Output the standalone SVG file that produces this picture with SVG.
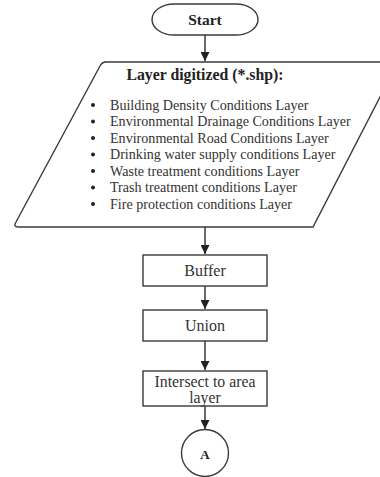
<svg xmlns="http://www.w3.org/2000/svg" width="380" height="477" viewBox="0 0 380 477">
  <style>
    .shape { fill: #ffffff; stroke: #3a3a3a; stroke-width: 1.4; }
    .edge { stroke: #2a2a2a; stroke-width: 1.4; fill: none; }
    .title { font-family: "Liberation Serif", "Times New Roman", serif; font-weight: bold; fill: #222222; }
    .label { font-family: "Liberation Serif", "Times New Roman", serif; fill: #333333; }
    .bullet { fill: #222222; }
  </style>
  <defs>
    <marker id="arrow" viewBox="0 0 10 10" refX="10" refY="5" markerWidth="9" markerHeight="9" markerUnits="userSpaceOnUse" orient="auto">
      <path d="M0,0 L10,5 L0,10 z" fill="#222222"/>
    </marker>
  </defs>
  <rect width="380" height="477" fill="#ffffff"/>

  <!-- connectors -->
  <g id="connectors">
    <line class="edge" x1="205" y1="35" x2="205" y2="61" marker-end="url(#arrow)"/>
    <line class="edge" x1="205" y1="227" x2="205" y2="254" marker-end="url(#arrow)"/>
    <line class="edge" x1="205" y1="286" x2="205" y2="309" marker-end="url(#arrow)"/>
    <line class="edge" x1="205" y1="341" x2="205" y2="370" marker-end="url(#arrow)"/>
    <line class="edge" x1="205" y1="406" x2="205" y2="429" marker-end="url(#arrow)"/>
  </g>

  <!-- start terminator -->
  <g id="start">
    <rect class="shape" x="152" y="4" width="106" height="31" rx="22" ry="15.5"/>
    <text class="title" x="205" y="25" font-size="15.5" text-anchor="middle">Start</text>
  </g>

  <!-- input layers -->
  <g id="layers">
    <path class="shape" d="M104,62 L398,62 L313,227 L18,227 Q13,227 16,222 L100,66 Q102,62 106,62 Z"/>
    <text class="title" x="205" y="80" font-size="15.8" text-anchor="middle">Layer digitized (*.shp):</text>
    <g class="bullet">
      <circle cx="93" cy="105" r="2"/>
      <circle cx="93" cy="121.5" r="2"/>
      <circle cx="93" cy="138" r="2"/>
      <circle cx="93" cy="154.5" r="2"/>
      <circle cx="93" cy="171" r="2"/>
      <circle cx="93" cy="187.5" r="2"/>
      <circle cx="93" cy="204" r="2"/>
    </g>
    <g class="label" font-size="14.1">
      <text x="110" y="109.5">Building Density Conditions Layer</text>
      <text x="110" y="126">Environmental Drainage Conditions Layer</text>
      <text x="110" y="142.5">Environmental Road Conditions Layer</text>
      <text x="110" y="159">Drinking water supply conditions Layer</text>
      <text x="110" y="175.5">Waste treatment conditions Layer</text>
      <text x="110" y="192">Trash treatment conditions Layer</text>
      <text x="110" y="208.5">Fire protection conditions Layer</text>
    </g>
  </g>

  <!-- processing steps -->
  <g id="buffer">
    <rect class="shape" x="143" y="255" width="124" height="31"/>
    <text class="label" x="205" y="276" font-size="16" text-anchor="middle">Buffer</text>
  </g>
  <g id="union">
    <rect class="shape" x="143" y="310" width="124" height="31"/>
    <text class="label" x="205" y="331" font-size="16" text-anchor="middle">Union</text>
  </g>
  <g id="intersect">
    <rect class="shape" x="143" y="371" width="124" height="35"/>
    <text class="label" x="205" y="387" font-size="15.8" text-anchor="middle">Intersect to area</text>
    <text class="label" x="205" y="403" font-size="15.8" text-anchor="middle">layer</text>
  </g>

  <!-- off-page connector -->
  <g id="connector-a">
    <circle class="shape" cx="205" cy="453" r="23.5"/>
    <text class="title" x="205" y="458.5" font-size="13" text-anchor="middle">A</text>
  </g>
</svg>
